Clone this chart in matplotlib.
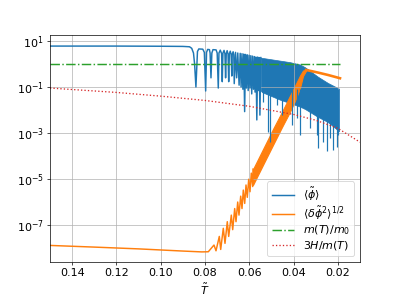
import matplotlib
matplotlib.use('Agg')
import matplotlib.pyplot as plt

# <phi>: plateau then resolved oscillations (peaks / dips)
phi_T = [0.150, 0.120, 0.100, 0.090, 0.0870, 0.0860, 0.0852, 0.0847, 0.0841,
         0.0834, 0.0828, 0.0810, 0.0803, 0.0797,
         0.0793, 0.0788, 0.0780, 0.0777, 0.0773,
         0.0769, 0.0764, 0.0750, 0.0745, 0.0740,
         0.0737, 0.0731, 0.0725, 0.0722,
         0.0719, 0.0714, 0.0710, 0.0707,
         0.0704, 0.0700, 0.0696, 0.0693,
         0.0690, 0.0686, 0.0682, 0.0679,
         0.0677, 0.0673, 0.0670, 0.0668,
         0.0662, 0.0657, 0.0652, 0.0646,
         0.0641, 0.0637, 0.0633, 0.0629, 0.0625, 0.0621, 0.0617, 0.0613,
         0.0609, 0.0605, 0.0601, 0.0597, 0.0593, 0.0589, 0.0585, 0.0581,
         0.0577, 0.0574, 0.0570, 0.0566, 0.0562, 0.0559, 0.0555, 0.0552, 0.0548]
phi_val = [6.0, 6.0, 5.9, 5.8, 5.6, 4.8, 3.0, 1.0, 0.1,
           3.5, 4.5, 4.4, 3.2, 0.067,
           3.2, 4.3, 4.2, 3.0, 0.25,
           3.0, 4.2, 4.1, 3.0, 0.09,
           3.0, 4.0, 2.8, 0.17,
           3.0, 3.9, 2.8, 0.25,
           2.8, 3.8, 2.7, 0.17,
           2.7, 3.6, 2.6, 0.3,
           2.6, 3.4, 2.5, 0.14,
           3.2, 0.25, 3.0, 0.12,
           2.9, 0.10, 2.8, 0.08, 2.7, 0.0085, 2.6, 0.09,
           2.5, 0.07, 2.4, 0.09, 2.3, 0.05, 2.2, 0.08,
           2.1, 0.06, 2.0, 0.0037, 2.0, 0.07, 1.9, 0.006, 1.9]

# <phi>: dense oscillation band (upper / lower edge) and deep spikes
band_T = [0.0548, 0.0543, 0.0461, 0.0416, 0.0371, 0.0348, 0.0290, 0.0245, 0.0195]
band_hi = [1.9, 1.85, 1.4, 1.2, 0.95, 0.72, 0.28, 0.15, 0.085]
band_lo = [0.07, 0.06, 0.028, 0.02, 0.014, 0.011, 0.005, 0.003, 0.0012]
spike_T = [0.0537, 0.0514, 0.0506, 0.0476, 0.0454, 0.0408, 0.0386, 0.0371, 0.0326,
           0.0296, 0.0288, 0.0267, 0.0250, 0.0236, 0.0222, 0.0205, 0.0198]
spike_lo = [0.023, 0.00115, 0.00042, 0.017, 0.0063, 0.0022, 0.0044, 0.0008, 0.0016,
            0.0008, 0.00022, 0.00042, 0.00016, 0.0006, 0.00018, 0.00025, 0.0008]

# <dphi^2>^1/2: flat, then growing oscillation
dphi_T = [0.150, 0.130, 0.110, 0.090, 0.0815, 0.07851,
          0.07594, 0.07503, 0.07354, 0.07291, 0.07174, 0.07097, 0.06993, 0.06930,
          0.06812, 0.06749, 0.06659, 0.06600, 0.06523, 0.06465, 0.06388, 0.06329,
          0.06270, 0.06207, 0.06148, 0.06090, 0.06026, 0.05968, 0.05909, 0.05846, 0.05832]
dphi_val = [1.3e-8, 1.1e-8, 9.2e-9, 7.4e-9, 6.8e-9, 6.9e-9,
            1.35e-8, 7.6e-9, 3.2e-8, 8.7e-9, 7.2e-8, 1.6e-8, 1.4e-7, 3.2e-8,
            2.7e-7, 6.3e-8, 5.2e-7, 1.4e-7, 1.0e-6, 2.7e-7, 1.8e-6, 5.2e-7,
            3.3e-6, 8.7e-7, 5.5e-6, 1.6e-6, 9.8e-6, 2.8e-6, 1.8e-5, 4.7e-6, 2.7e-5]
dband_T = [0.05832, 0.05290, 0.04929, 0.04523, 0.04161, 0.03935, 0.03710, 0.03574, 0.03439]
dband_hi = [2.7e-5, 3.0e-4, 1.5e-3, 8.4e-3, 0.042, 0.114, 0.316, 0.52, 0.55]
dband_lo = [5.5e-6, 6.1e-5, 3.0e-4, 1.8e-3, 8.4e-3, 0.025, 0.09, 0.30, 0.50]
dtail_T = [0.03439, 0.0315, 0.02883, 0.02445, 0.01903]
dtail_val = [0.55, 0.48, 0.42, 0.333, 0.24]

# m(T)/m0 and 3H/m(T)
m_T = [0.150, 0.019]
m_val = [1.0, 1.0]
h_T = [0.15, 0.12, 0.10, 0.08, 0.06, 0.04, 0.03, 0.02, 0.01]
h_val = [0.09, 0.058, 0.040, 0.026, 0.0145, 0.0064, 0.0036, 0.0016, 0.0004]

plt.rcParams['font.size'] = 12.8
fig, ax = plt.subplots(figsize=(6.4, 4.8), dpi=62.5)
fig.subplots_adjust(left=0.125, right=0.9, bottom=0.127, top=0.883)

ax.semilogy(phi_T, phi_val, color='C0', lw=1.7, label=r'$\langle\tilde\phi\rangle$')
ax.fill_between(band_T, band_lo, band_hi, color='C0', lw=0.8)
ax.vlines(spike_T, spike_lo, 0.08, color='C0', lw=1.4)

ax.semilogy(dphi_T, dphi_val, color='C1', lw=1.7, label=r'$\langle\delta\tilde\phi^2\rangle^{1/2}$')
ax.fill_between(dband_T, dband_lo, dband_hi, color='C1', lw=1.2)
ax.semilogy(dtail_T, dtail_val, color='C1', lw=3)

ax.semilogy(m_T, m_val, '-.', color='C2', lw=1.7, label=r'$m(T)/m_0$')
ax.semilogy(h_T, h_val, ':', color='C3', lw=1.5, label=r'$3H/m(T)$')

ax.set_xlim(0.15, 0.01)
ax.set_ylim(2.5e-9, 18)
ax.set_xlabel(r'$\tilde T$')
ax.grid(True)
ax.legend(loc='lower right', labelspacing=0.15)

plt.savefig('out.png')
